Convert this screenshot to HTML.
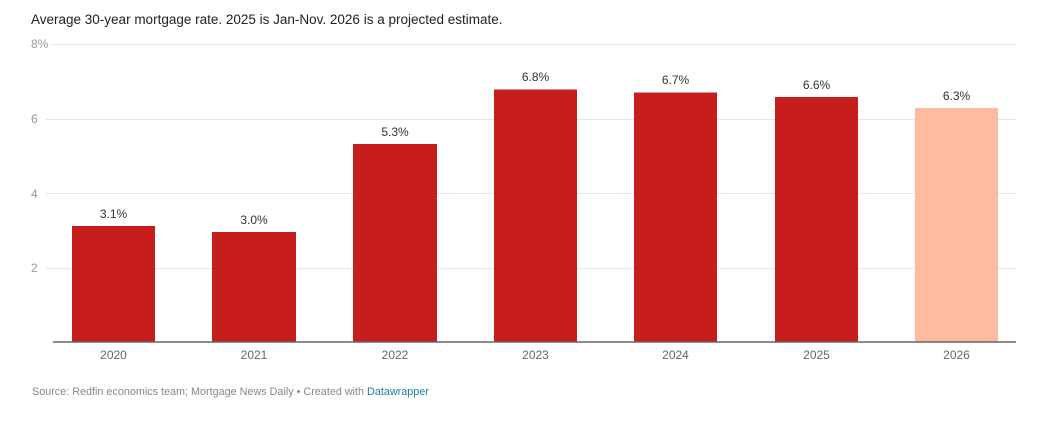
<!DOCTYPE html>
<html><head><style>
body{margin:0;background:#fff;width:1040px;height:416px;overflow:hidden;font-family:"Liberation Sans",Arial,sans-serif}
</style></head><body>
<svg width="1040" height="416" xmlns="http://www.w3.org/2000/svg" font-family="Liberation Sans, Arial, sans-serif">
<text x="31" y="24" font-size="13.5" fill="#222">Average 30-year mortgage rate. 2025 is Jan-Nov. 2026 is a projected estimate.</text>
<g stroke="#e6e6e6" stroke-width="1">
<line x1="52" x2="1016" y1="44.5" y2="44.5"/>
<line x1="46" x2="1016" y1="119.5" y2="119.5"/>
<line x1="46" x2="1016" y1="193.5" y2="193.5"/>
<line x1="46" x2="1016" y1="268.5" y2="268.5"/>
</g>
<g font-size="12" fill="#999">
<text x="31" y="48">8%</text>
<text x="31" y="123">6</text>
<text x="31" y="198">4</text>
<text x="31" y="272">2</text>
</g>
<g fill="#c71e1d">
<rect x="72" y="226" width="83" height="116"/>
<rect x="212" y="232" width="84" height="110"/>
<rect x="353" y="144" width="84" height="198"/>
<rect x="494" y="89.5" width="83" height="252.5"/>
<rect x="634" y="92.5" width="83" height="249.5"/>
<rect x="775" y="97" width="83" height="245"/>
</g>
<rect x="915" y="108" width="83" height="234" fill="#fdbb9f"/>
<line x1="53" x2="1016" y1="342" y2="342" stroke="#666" stroke-width="1.5"/>
<g font-size="12" fill="#333" text-anchor="middle">
<text x="113.5" y="218">3.1%</text>
<text x="254" y="224">3.0%</text>
<text x="395" y="136">5.3%</text>
<text x="535.5" y="81">6.8%</text>
<text x="675.5" y="84">6.7%</text>
<text x="816.5" y="89">6.6%</text>
<text x="956.5" y="100">6.3%</text>
</g>
<g font-size="12" fill="#666" text-anchor="middle">
<text x="113.5" y="359">2020</text>
<text x="254" y="359">2021</text>
<text x="395" y="359">2022</text>
<text x="535.5" y="359">2023</text>
<text x="675.5" y="359">2024</text>
<text x="816.5" y="359">2025</text>
<text x="956.5" y="359">2026</text>
</g>
<text x="32" y="395" font-size="10.8" fill="#888">Source: Redfin economics team; Mortgage News Daily • Created with <tspan fill="#1d81a2">Datawrapper</tspan></text>
</svg>
</body></html>
